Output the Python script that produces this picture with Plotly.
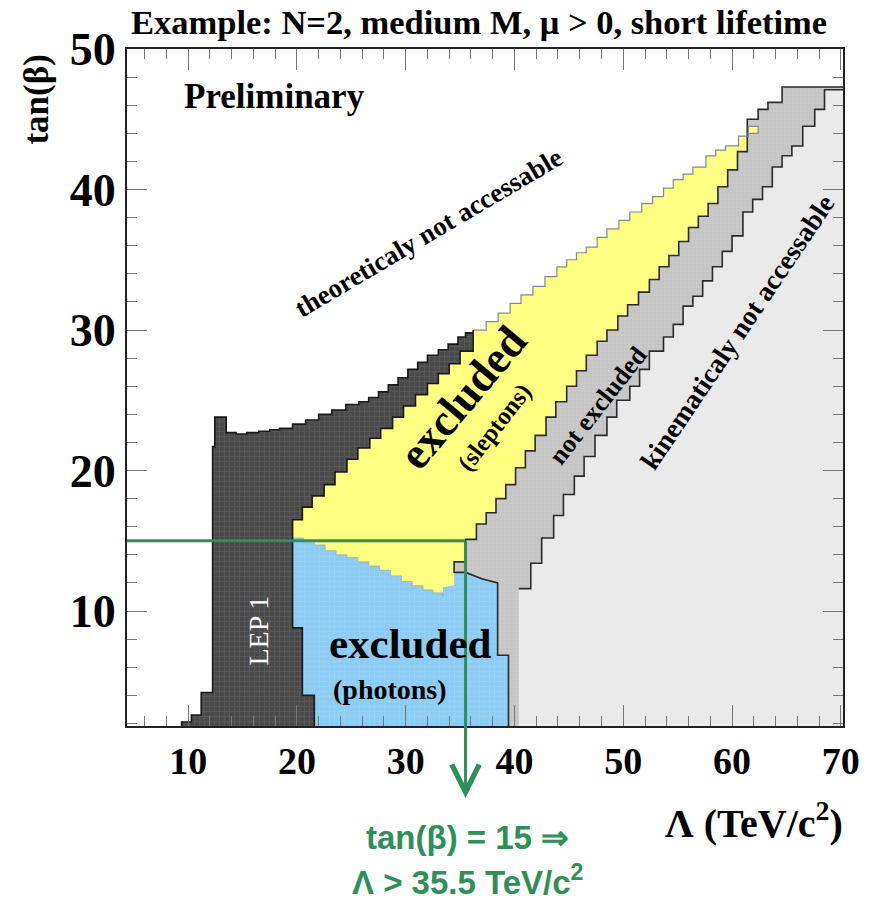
import plotly.graph_objects as go

# ---------------- data (data units) ----------------
X_RANGE = [4.38, 70.2]
Y_RANGE = [1.82, 50.0]
X_TICKS = [10, 20, 30, 40, 50, 60, 70]
Y_TICKS = [10, 20, 30, 40, 50]

# kinematic limit (left edge of light-grey region)
kin_x = [40.4, 41.5, 42.5, 43.6, 44.5, 45.5, 46.4, 47.4, 48.5, 49.4, 50.6, 51.5, 52.4, 53.7, 54.6,
         55.5, 56.4, 57.3, 58.2, 59.1, 60.0, 61.0, 61.9, 62.8, 63.7, 64.6, 65.5, 66.5, 67.6, 68.5]
kin_y = [11.6, 13.4, 15.2, 16.8, 18.3, 19.6, 21.0, 22.5, 23.8, 25.0, 26.0, 27.2, 28.5, 29.5, 30.4,
         31.7, 32.4, 33.5, 34.5, 35.6, 36.7, 38.4, 39.3, 40.2, 41.6, 42.4, 43.1, 44.5, 45.7, 47.1]

# slepton exclusion: right edge (towards "not excluded")
yr_x = [35.5, 36.5, 37.4, 38.3, 39.2, 40.1, 41.0, 41.9, 42.9, 43.8, 44.8, 45.7, 46.6, 47.6, 48.5,
        49.5, 50.4, 51.4, 52.4, 53.3, 54.2, 55.1, 56.0, 56.9, 57.8, 58.7, 59.6, 60.5, 61.4]
yr_y = [15.1, 16.2, 17.0, 18.0, 19.0, 20.2, 21.4, 22.5, 23.8, 24.9, 26.0, 27.1, 28.2, 29.2, 30.0,
        31.0, 31.8, 32.7, 33.6, 34.5, 35.3, 36.3, 37.3, 38.1, 39.0, 40.2, 41.4, 42.7, 43.8]

# slepton exclusion: left edge (towards LEP 1 region)
yl_x = [19.6, 20.5, 21.4, 22.5, 23.5, 24.6, 25.6, 26.7, 27.7, 28.8, 29.8, 30.9, 32.0, 33.0, 34.0, 35.0, 36.2]
yl_y = [16.5, 17.4, 18.2, 19.0, 19.9, 20.8, 21.6, 22.3, 23.0, 23.8, 24.6, 25.4, 26.2, 26.9, 27.6, 28.5, 29.6]

# slepton exclusion: upper edge (theoretical limit)
yt_x = [36.2, 37.4, 38.5, 39.6, 40.6, 41.7, 42.8, 43.9, 44.8, 45.7, 46.6, 47.6, 48.5, 49.6, 50.6,
        51.7, 52.7, 53.7, 54.6, 55.5, 56.4, 57.6, 58.5, 59.4, 60.6, 61.5]
yt_y = [30.0, 30.6, 31.2, 31.9, 32.5, 33.1, 33.8, 34.5, 35.0, 35.5, 35.9, 36.6, 37.2, 37.8, 38.4,
        39.0, 39.5, 40.1, 40.7, 41.1, 41.6, 42.4, 42.8, 43.1, 43.8, 44.5]
tip_x = [62.4, 62.4, 61.4]
tip_y = [44.5, 44.0, 44.0]

# slepton / photon boundary
yb_x = [19.6, 20.6, 21.6, 22.6, 23.6, 24.6, 25.6, 26.6, 27.6, 28.6, 29.6, 30.6, 31.6, 32.5, 33.4]
yb_y = [15.2, 15.0, 14.7, 14.3, 14.0, 13.8, 13.5, 13.2, 12.9, 12.5, 12.1, 11.8, 11.5, 11.3, 11.0]

# photon exclusion: right edge (bottom -> top) incl. small notch
pr_x = [39.45, 39.45, 38.45, 38.45, 37.0, 35.5, 34.45, 34.45, 33.4, 33.4]
pr_y = [1.0, 6.86, 6.86, 12.0, 12.3, 12.75, 12.75, 11.85, 11.7, 11.0]

# photon / LEP1 boundary (top -> bottom)
pl_x = [19.6, 19.6, 20.5, 20.5, 21.6, 21.6]
pl_y = [15.2, 8.8, 8.8, 4.0, 4.0, 1.0]

# "not excluded" band: lower-left part and top cap
gl_x = [39.45, 39.45, 38.45, 38.45, 37.0, 35.5, 34.45, 34.45, 35.5]
gl_y = [1.0, 6.86, 6.86, 12.0, 12.3, 12.75, 12.75, 13.5, 13.5]
cap_x = [61.4, 61.4, 62.4, 62.4, 63.3, 63.3, 64.6, 64.6, 71.0]
cap_y = [43.8, 45.0, 45.0, 45.7, 45.7, 46.2, 46.2, 47.3, 47.3]

# LEP 1 region: left edge (bottom -> top) incl. notch
ll_x = [9.4, 9.4, 10.3, 10.3, 11.2, 11.2, 12.25, 12.25, 12.45, 12.45, 13.5]
ll_y = [1.0, 2.1, 2.1, 2.6, 2.6, 4.2, 4.2, 21.7, 21.7, 23.8, 23.8]
# LEP 1 region: upper edge
dt_x = [13.5, 14.4, 15.4, 16.5, 17.5, 18.4, 19.6, 20.8, 22.0, 23.2, 24.5, 25.7, 26.6, 27.5, 28.4,
        29.3, 30.2, 31.1, 32.0, 33.0, 33.9, 34.8, 35.5, 36.2]
dt_y = [22.7, 22.6, 22.7, 22.8, 22.9, 23.0, 23.3, 23.6, 24.0, 24.3, 24.7, 24.9, 25.2, 25.6, 26.1,
        26.6, 27.2, 27.7, 28.2, 28.6, 29.0, 29.5, 29.8, 30.0]

LIMIT_TANB = 15.0
LIMIT_LAMBDA = 35.5
ARROW_END_Y = -3.3
X_FAR = 71.0
Y_FAR = 1.0

SERIF = "Liberation Serif, Times New Roman, serif"
SANS = "Liberation Sans Narrow, Arial Narrow, Liberation Sans, Arial, sans-serif"
GREEN = "#2f8f58"


def stairs(xs, ys):
    px, py = [xs[0]], [ys[0]]
    for i in range(1, len(xs)):
        px += [xs[i], xs[i]]
        py += [ys[i - 1], ys[i]]
    return px, py


def rev(a):
    return list(a)[::-1]


kx, ky = stairs(kin_x, kin_y)
rx, ry = stairs(yr_x, yr_y)
lx, ly = stairs(yl_x, yl_y)
tx, ty = stairs(yt_x, yt_y)
bx, by = stairs(yb_x, yb_y)
dx, dy = stairs(dt_x, dt_y)

# polygons
grey_x = gl_x + rx + cap_x + [X_FAR]
grey_y = gl_y + ry + cap_y + [Y_FAR]

light_x = [kin_x[0]] + kx + [X_FAR, X_FAR]
light_y = [Y_FAR] + ky + [kin_y[-1], Y_FAR]

yel_x = [yb_x[0]] + lx + tx + tip_x + rev(rx) + [35.5, 34.45, 34.45, 33.4] + rev(bx)
yel_y = [yb_y[0]] + ly + ty + tip_y + rev(ry) + [13.5, 13.5, 11.85, 11.7] + rev(by)

blue_x = pl_x + pr_x + rev(bx)
blue_y = pl_y + pr_y + rev(by)

dark_x = ll_x + dx + rev(lx) + pl_x
dark_y = ll_y + dy + rev(ly) + pl_y

fig = go.Figure()


def poly(x, y, bg, fg=None, shape="", size=5, sol=0.2):
    kw = dict(x=x, y=y, mode="lines", fill="toself", fillcolor=bg,
              line=dict(width=0, color=bg), hoverinfo="skip", showlegend=False)
    if fg:
        kw["fillpattern"] = dict(shape=shape, bgcolor=bg, fgcolor=fg, size=size, solidity=sol)
    fig.add_trace(go.Scatter(**kw))


def outline(x, y, color, width):
    fig.add_trace(go.Scatter(x=x, y=y, mode="lines", line=dict(color=color, width=width),
                             hoverinfo="skip", showlegend=False))


poly(grey_x, grey_y, "#c4c4c4", "#d4d4d4", "+", 4, 0.25)
poly(light_x, light_y, "#e9e9e9", "#f1f1f1", "+", 4, 0.2)
poly(blue_x, blue_y, "#8ccbf2", "#a9dbfa", "+", 5, 0.22)
poly(yel_x, yel_y, "#ffff82")
poly(dark_x, dark_y, "#4a4a4a", "#6a6a6a", "+", 5, 0.3)

# outlines
outline(grey_x[:-1], grey_y[:-1], "#2a2a2a", 1.6)
outline(kx + [X_FAR], ky + [kin_y[-1]], "#2a2a2a", 1.6)
outline(tx + tip_x, ty + tip_y, "#7d8c9c", 1.2)
outline(bx, by, "#9aa8b4", 0.8)
outline(dark_x + [dark_x[0]], dark_y + [dark_y[0]], "#1a1a1a", 1.6)

# green limit line
fig.add_shape(type="line", xref="x", yref="y", x0=X_RANGE[0] - 1, x1=LIMIT_LAMBDA,
              y0=LIMIT_TANB, y1=LIMIT_TANB, line=dict(color=GREEN, width=3), layer="above")

ann = []
ann.append(dict(x=LIMIT_LAMBDA, y=ARROW_END_Y, ax=LIMIT_LAMBDA, ay=LIMIT_TANB, xref="x", yref="y",
                axref="x", ayref="y", text="", showarrow=True, arrowhead=5, arrowsize=1.8,
                arrowwidth=3, arrowcolor=GREEN))


def txt(x, y, s, size, angle=0, color="black", bold=True, family=SERIF, xref="x", yref="y",
        xanchor="center", yanchor="middle"):
    ann.append(dict(x=x, y=y, xref=xref, yref=yref, text=s, showarrow=False, textangle=angle,
                    xanchor=xanchor, yanchor=yanchor,
                    font=dict(family=family, size=size, color=color,
                              weight="bold" if bold else "normal")))


txt(0.492, 1.040, "Example: N=2, medium M, \u03bc > 0, short lifetime", 34.5, xref="paper", yref="paper")
txt(17.9, 46.6, "Preliminary", 35)
txt(-0.126, 0.925, "tan(\u03b2)", 35, angle=-90, xref="paper", yref="paper")
txt(1.003, -0.139, "\u039b (TeV/c<sup>2</sup>)", 40, xref="paper", yref="paper", xanchor="right")
txt(32.05, 36.9, "theoreticaly not accessable", 27, angle=-30.6)
txt(35.3, 25.2, "excluded", 45, angle=-50)
txt(38.2, 23.1, "(sleptons)", 25, angle=-52)
txt(47.7, 24.6, "not excluded", 26, angle=-52)
txt(60.5, 29.9, "kinematicaly not accessable", 27.5, angle=-56)
txt(16.5, 8.6, "LEP 1", 28, angle=-90, color="white", bold=False)
txt(30.46, 7.7, "excluded", 43)
txt(28.56, 4.4, "(photons)", 28)
txt(0.476, -0.165, "tan(\u03b2) = 15 \u21d2", 33, color=GREEN, family=SANS, xref="paper", yref="paper")
txt(0.476, -0.227, "\u039b > 35.5 TeV/c<sup>2</sup>", 33, color=GREEN, family=SANS, xref="paper", yref="paper")

fig.update_layout(
    width=872, height=909, margin=dict(l=127, r=24, t=49, b=183),
    paper_bgcolor="white", plot_bgcolor="white", showlegend=False, annotations=ann,
)
fig.update_xaxes(range=X_RANGE, tickvals=X_TICKS, ticks="inside", ticklen=21, tickwidth=1,
                 tickcolor="#777777", mirror="ticks", showline=True, linecolor="#222222", linewidth=2,
                 showgrid=False, zeroline=False,
                 tickfont=dict(family=SERIF, size=38, color="black", weight="bold"),
                 minor=dict(dtick=2, ticks="inside", ticklen=10, tickcolor="#777777", showgrid=False))
fig.update_yaxes(range=Y_RANGE, tickvals=Y_TICKS, ticks="inside", ticklen=20, tickwidth=1,
                 tickcolor="#777777", mirror="ticks", showline=True, linecolor="#222222", linewidth=2,
                 showgrid=False, zeroline=False,
                 tickfont=dict(family=SERIF, size=46, color="black", weight="bold"),
                 minor=dict(dtick=2, ticks="inside", ticklen=10, tickcolor="#777777", showgrid=False))

fig.write_html("out.html")
